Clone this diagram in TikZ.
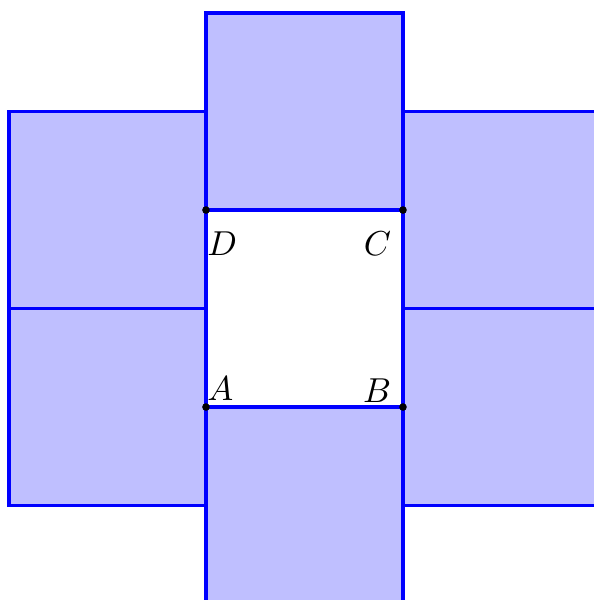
\documentclass[tikz,border=0pt]{standalone}
\usepackage{amsmath, amssymb}
\usetikzlibrary{positioning}

\tikzset{
  face/.style={draw=blue, fill=blue!25, line width=1pt},
  vertex/.style={circle, fill=black, inner sep=0pt, minimum size=2.2pt},
  tag/.style={inner sep=0.3pt, font=\normalsize}
}

\begin{document}
\begin{tikzpicture}
        % Frame
        \useasboundingbox (-2.091, -1.959) rectangle (3.939, 4.132);
        \clip (-2.091, -1.959) rectangle (3.939, 4.132);

        % Squares round ABCD
        \draw[face] (0, 2) rectangle (2, 4);
        \draw[face] (0, 0) rectangle (2, -2);
        \draw[face] (-2, 1) rectangle (0, 3);
        \draw[face] (-2, -1) rectangle (0, 1);
        \draw[face] (2, 1) rectangle (4, 3);
        \draw[face] (2, -1) rectangle (4, 1);

        % Middle square
        \draw[blue, line width=1pt] (0, 0) rectangle (2, 2);

        % Points
        \node[vertex, label={[tag, yshift=0.5pt, xshift=-1pt]above right:$A$}] (A) at (0, 0) {};
        \node[vertex, label={[tag, xshift=-2pt]above left:$B$}] (B) at (2, 0) {};
        \node[vertex, label={[tag, yshift=-5pt, xshift=-2pt]below left:$C$}] (C) at (2, 2) {};
        \node[vertex, label={[tag, yshift=-5pt, xshift=-1pt]below right:$D$}] (D) at (0, 2) {};
    \end{tikzpicture}
\end{document}
